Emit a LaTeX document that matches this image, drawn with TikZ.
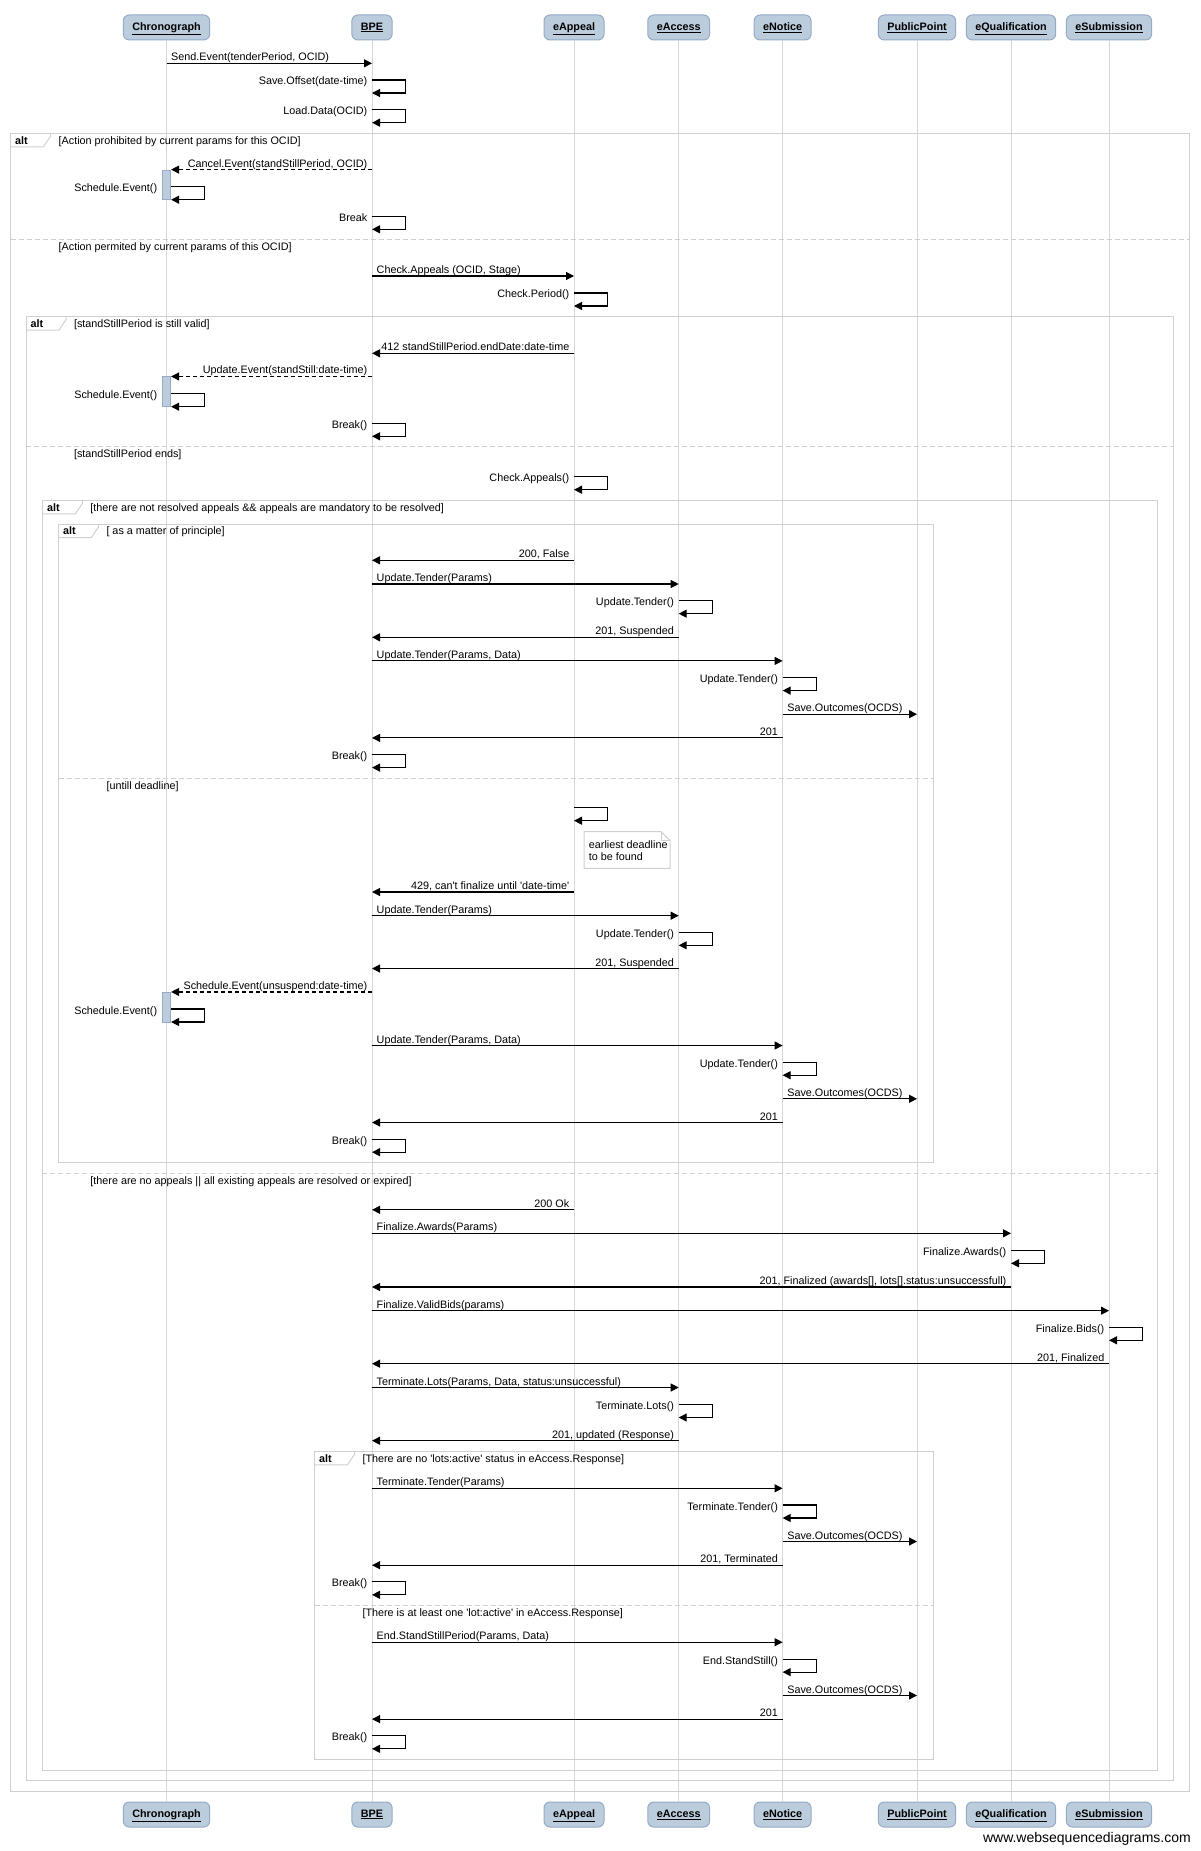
\documentclass[tikz,border=0pt]{standalone}
\usepackage{fontspec}
\setmainfont{Liberation Sans}[Ligatures=TeXOff]
\usetikzlibrary{arrows.meta}
\definecolor{headfill}{RGB}{187,205,220}
\definecolor{headline}{RGB}{148,170,198}
\definecolor{lifegray}{RGB}{214,214,214}
\definecolor{framegray}{RGB}{208,208,208}
\begin{document}
\begin{tikzpicture}[x=1pt, y=-1pt,
  every node/.style={font=\fontsize{10.8}{12}\selectfont},
  head/.style={draw=headline, fill=headfill, line width=1pt, rounded corners=6pt, inner xsep=9pt, inner ysep=0pt, minimum height=25pt, text height=8pt, text depth=2.5pt, font=\fontsize{10.8}{12}\selectfont\bfseries},
  life/.style={draw=lifegray, line width=1pt},
  msg/.style={draw=black, line width=1.1pt, -{Triangle[length=8pt,width=8pt]}},
  back/.style={msg, dash pattern=on 4pt off 3pt},
  lblr/.style={anchor=base west, inner sep=0pt, xshift=4.5pt, yshift=2.5pt},
  lbll/.style={anchor=base east, inner sep=0pt, xshift=-4.5pt, yshift=2.5pt},
  lbls/.style={anchor=base east, inner sep=0pt, xshift=-4.5pt, yshift=-5pt},
  frame/.style={draw=framegray, line width=1pt},
  sepline/.style={draw=framegray, line width=1pt, dash pattern=on 5pt off 3pt},
  alttab/.style={anchor=base west, inner sep=0pt, font=\fontsize{10.8}{12}\selectfont\bfseries},
  guard/.style={anchor=base west, inner sep=0pt},
  act/.style={draw=headline, fill=headfill, line width=0.8pt, minimum width=8.4pt, minimum height=29.7pt, inner sep=0pt}]
\useasboundingbox (0,0) rectangle (1200,1851);

\node[head] (chrono) at (166.5,27.5) {\underline{Chronograph}};
\node[head] (bpe) at (372,27.5) {\underline{BPE}};
\node[head] (appeal) at (574,27.5) {\underline{eAppeal}};
\node[head] (access) at (678.7,27.5) {\underline{eAccess}};
\node[head] (notice) at (782.6,27.5) {\underline{eNotice}};
\node[head] (public) at (917,27.5) {\underline{PublicPoint}};
\node[head] (qualif) at (1011,27.5) {\underline{eQualification}};
\node[head] (submis) at (1109,27.5) {\underline{eSubmission}};
\node[head] (chronoE) at (166.5,1814.5) {\underline{Chronograph}};
\node[head] (bpeE) at (372,1814.5) {\underline{BPE}};
\node[head] (appealE) at (574,1814.5) {\underline{eAppeal}};
\node[head] (accessE) at (678.7,1814.5) {\underline{eAccess}};
\node[head] (noticeE) at (782.6,1814.5) {\underline{eNotice}};
\node[head] (publicE) at (917,1814.5) {\underline{PublicPoint}};
\node[head] (qualifE) at (1011,1814.5) {\underline{eQualification}};
\node[head] (submisE) at (1109,1814.5) {\underline{eSubmission}};
\node[anchor=base east, inner sep=0pt, font=\fontsize{14}{16}\selectfont] (site) at (1191,1842) {www.websequencediagrams.com};

\draw[life] (chrono.south) -- (chronoE.north);
\draw[life] (bpe.south) -- (bpeE.north);
\draw[life] (appeal.south) -- (appealE.north);
\draw[life] (access.south) -- (accessE.north);
\draw[life] (notice.south) -- (noticeE.north);
\draw[life] (public.south) -- (publicE.north);
\draw[life] (qualif.south) -- (qualifE.north);
\draw[life] (submis.south) -- (submisE.north);

\draw[frame] (10.5,133.3) rectangle (1189.5,1791.4);
\draw[frame] (10.5,146.8) -- (43.5,146.8) -- (50.5,136.3) -- (50.5,133.3);
\node[alttab] (a1) at (15,144.1) {alt};
\node[guard] (g1) at (58.5,144.1) {[Action prohibited by current params for this OCID]};
\draw[sepline] (10.5,240) -- (1189.5,240);
\node[guard] (g1b) at (58.5,251) {[Action permited by current params of this OCID]};

\draw[frame] (26,316.7) rectangle (1173.5,1780.7);
\draw[frame] (26,330.2) -- (59,330.2) -- (66,319.7) -- (66,316.7);
\node[alttab] (a2) at (30.5,327.5) {alt};
\node[guard] (g2) at (73.8,327.5) {[standStillPeriod is still valid]};
\draw[sepline] (26,446.7) -- (1173.5,446.7);
\node[guard] (g2b) at (73.8,457.7) {[standStillPeriod ends]};

\draw[frame] (42.4,500.3) rectangle (1157.5,1770);
\draw[frame] (42.4,513.8) -- (75.4,513.8) -- (82.4,503.3) -- (82.4,500.3);
\node[alttab] (a3) at (46.9,511.1) {alt};
\node[guard] (g3) at (90.2,511.1) {[there are not resolved appeals \&\& appeals are mandatory to be resolved]};
\draw[sepline] (42.4,1173.6) -- (1157.5,1173.6);
\node[guard] (g3b) at (90.2,1184.6) {[there are no appeals || all existing appeals are resolved or expired]};

\draw[frame] (58.5,524) rectangle (933.5,1162.9);
\draw[frame] (58.5,537.5) -- (91.5,537.5) -- (98.5,527) -- (98.5,524);
\node[alttab] (a4) at (63,534.8) {alt};
\node[guard] (g4) at (106.3,534.8) {[ as a matter of principle]};
\draw[sepline] (58.5,778.3) -- (933.5,778.3);
\node[guard] (g4b) at (106.3,789.3) {[untill deadline]};

\draw[frame] (314.5,1451.3) rectangle (933.5,1759.3);
\draw[frame] (314.5,1464.8) -- (347.5,1464.8) -- (354.5,1454.3) -- (354.5,1451.3);
\node[alttab] (a5) at (319,1462.1) {alt};
\node[guard] (g5) at (362.3,1462.1) {[There are no 'lots:active' status in eAccess.Response]};
\draw[sepline] (314.5,1605.5) -- (933.5,1605.5);
\node[guard] (g5b) at (362.3,1616.5) {[There is at least one 'lot:active' in eAccess.Response]};

\node[act] (act1) at (chrono |- 0,184.85) {};
\node[act] (act2) at (chrono |- 0,391.7) {};
\node[act] (act3) at (chrono |- 0,1007.2) {};

\draw[msg] (chrono |- 0,63.3) -- (bpe |- 0,63.3);
\node[lblr] (m1) at (chrono |- 0,63.3) {Send.Event(tenderPeriod, OCID)};
\draw[msg] (bpe |- 0,80) -- ++(33.5,0) -- ++(0,13) -- ++(-33.5,0);
\node[lbls] (m2) at (bpe |- 0,80) {Save.Offset(date-time)};
\draw[msg] (bpe |- 0,109.7) -- ++(33.5,0) -- ++(0,13) -- ++(-33.5,0);
\node[lbls] (m3) at (bpe |- 0,109.7) {Load.Data(OCID)};
\draw[back] (bpe |- act1.north) -- (act1.north east);
\node[lbll] (m4) at (bpe |- act1.north) {Cancel.Event(standStillPeriod, OCID)};
\draw[msg] (act1.east |- 0,186.7) -- ++(33.5,0) -- ++(0,13) -- ++(-33.5,0);
\node[lbls] (m5) at (act1.west |- 0,186.7) {Schedule.Event()};
\draw[msg] (bpe |- 0,216.3) -- ++(33.5,0) -- ++(0,13) -- ++(-33.5,0);
\node[lbls] (m6) at (bpe |- 0,216.3) {Break};
\draw[msg] (bpe |- 0,276) -- (appeal |- 0,276);
\node[lblr] (m7) at (bpe |- 0,276) {Check.Appeals (OCID, Stage)};
\draw[msg] (appeal |- 0,293) -- ++(33.5,0) -- ++(0,13) -- ++(-33.5,0);
\node[lbls] (m8) at (appeal |- 0,293) {Check.Period()};

\draw[msg] (appeal |- 0,353.3) -- (bpe |- 0,353.3);
\node[lbll] (m9) at (appeal |- 0,353.3) {412 standStillPeriod.endDate:date-time};
\draw[back] (bpe |- act2.north) -- (act2.north east);
\node[lbll] (m10) at (bpe |- act2.north) {Update.Event(standStill:date-time)};
\draw[msg] (act2.east |- 0,393.7) -- ++(33.5,0) -- ++(0,13) -- ++(-33.5,0);
\node[lbls] (m11) at (act2.west |- 0,393.7) {Schedule.Event()};
\draw[msg] (bpe |- 0,423.3) -- ++(33.5,0) -- ++(0,13) -- ++(-33.5,0);
\node[lbls] (m12) at (bpe |- 0,423.3) {Break()};
\draw[msg] (appeal |- 0,476.7) -- ++(33.5,0) -- ++(0,13) -- ++(-33.5,0);
\node[lbls] (m13) at (appeal |- 0,476.7) {Check.Appeals()};

\draw[msg] (appeal |- 0,560.3) -- (bpe |- 0,560.3);
\node[lbll] (m14) at (appeal |- 0,560.3) {200, False};
\draw[msg] (bpe |- 0,584) -- (access |- 0,584);
\node[lblr] (m15) at (bpe |- 0,584) {Update.Tender(Params)};
\draw[msg] (access |- 0,600.7) -- ++(33.5,0) -- ++(0,13) -- ++(-33.5,0);
\node[lbls] (m16) at (access |- 0,600.7) {Update.Tender()};
\draw[msg] (access |- 0,637.3) -- (bpe |- 0,637.3);
\node[lbll] (m17) at (access |- 0,637.3) {201, Suspended};
\draw[msg] (bpe |- 0,660.9) -- (notice |- 0,660.9);
\node[lblr] (m18) at (bpe |- 0,660.9) {Update.Tender(Params, Data)};
\draw[msg] (notice |- 0,677.6) -- ++(33.5,0) -- ++(0,13) -- ++(-33.5,0);
\node[lbls] (m19) at (notice |- 0,677.6) {Update.Tender()};
\draw[msg] (notice |- 0,714.2) -- (public |- 0,714.2);
\node[lblr] (m20) at (notice |- 0,714.2) {Save.Outcomes(OCDS)};
\draw[msg] (notice |- 0,737.9) -- (bpe |- 0,737.9);
\node[lbll] (m21) at (notice |- 0,737.9) {201};
\draw[msg] (bpe |- 0,754.6) -- ++(33.5,0) -- ++(0,13) -- ++(-33.5,0);
\node[lbls] (m22) at (bpe |- 0,754.6) {Break()};

\draw[msg] (appeal |- 0,807.7) -- ++(33.5,0) -- ++(0,13) -- ++(-33.5,0);
\draw[draw=framegray, line width=1pt, fill=white] (584,831.7) -- (661,831.7) -- (670,840.7) -- (670,868.3) -- (584,868.3) -- cycle;
\draw[draw=framegray, line width=0.8pt] (661,831.7) -- (661,840.7) -- (670,840.7);
\node[anchor=base west, inner sep=0pt, align=left] (note) at (588.7,860) {earliest deadline\\to be found};
\draw[msg] (appeal |- 0,892) -- (bpe |- 0,892);
\node[lbll] (m24) at (appeal |- 0,892) {429, can't finalize until 'date-time'};
\draw[msg] (bpe |- 0,915.7) -- (access |- 0,915.7);
\node[lblr] (m25) at (bpe |- 0,915.7) {Update.Tender(Params)};
\draw[msg] (access |- 0,932.3) -- ++(33.5,0) -- ++(0,13) -- ++(-33.5,0);
\node[lbls] (m26) at (access |- 0,932.3) {Update.Tender()};
\draw[msg] (access |- 0,968.5) -- (bpe |- 0,968.5);
\node[lbll] (m27) at (access |- 0,968.5) {201, Suspended};
\draw[back] (bpe |- act3.north) -- (act3.north east);
\node[lbll] (m28) at (bpe |- act3.north) {Schedule.Event(unsuspend:date-time)};
\draw[msg] (act3.east |- 0,1009) -- ++(33.5,0) -- ++(0,13) -- ++(-33.5,0);
\node[lbls] (m29) at (act3.west |- 0,1009) {Schedule.Event()};
\draw[msg] (bpe |- 0,1045.5) -- (notice |- 0,1045.5);
\node[lblr] (m30) at (bpe |- 0,1045.5) {Update.Tender(Params, Data)};
\draw[msg] (notice |- 0,1062.2) -- ++(33.5,0) -- ++(0,13) -- ++(-33.5,0);
\node[lbls] (m31) at (notice |- 0,1062.2) {Update.Tender()};
\draw[msg] (notice |- 0,1098.8) -- (public |- 0,1098.8);
\node[lblr] (m32) at (notice |- 0,1098.8) {Save.Outcomes(OCDS)};
\draw[msg] (notice |- 0,1122.5) -- (bpe |- 0,1122.5);
\node[lbll] (m33) at (notice |- 0,1122.5) {201};
\draw[msg] (bpe |- 0,1139.2) -- ++(33.5,0) -- ++(0,13) -- ++(-33.5,0);
\node[lbls] (m34) at (bpe |- 0,1139.2) {Break()};

\draw[msg] (appeal |- 0,1209.8) -- (bpe |- 0,1209.8);
\node[lbll] (m35) at (appeal |- 0,1209.8) {200 Ok};
\draw[msg] (bpe |- 0,1233.3) -- (qualif |- 0,1233.3);
\node[lblr] (m36) at (bpe |- 0,1233.3) {Finalize.Awards(Params)};
\draw[msg] (qualif |- 0,1250.3) -- ++(33.5,0) -- ++(0,13) -- ++(-33.5,0);
\node[lbls] (m37) at (qualif |- 0,1250.3) {Finalize.Awards()};
\draw[msg] (qualif |- 0,1287) -- (bpe |- 0,1287);
\node[lbll] (m38) at (qualif |- 0,1287) {201, Finalized (awards[], lots[].status:unsuccessfull)};
\draw[msg] (bpe |- 0,1310.7) -- (submis |- 0,1310.7);
\node[lblr] (m39) at (bpe |- 0,1310.7) {Finalize.ValidBids(params)};
\draw[msg] (submis |- 0,1327.3) -- ++(33.5,0) -- ++(0,13) -- ++(-33.5,0);
\node[lbls] (m40) at (submis |- 0,1327.3) {Finalize.Bids()};
\draw[msg] (submis |- 0,1363.7) -- (bpe |- 0,1363.7);
\node[lbll] (m41) at (submis |- 0,1363.7) {201, Finalized};
\draw[msg] (bpe |- 0,1387.5) -- (access |- 0,1387.5);
\node[lblr] (m42) at (bpe |- 0,1387.5) {Terminate.Lots(Params, Data, status:unsuccessful)};
\draw[msg] (access |- 0,1404.5) -- ++(33.5,0) -- ++(0,13) -- ++(-33.5,0);
\node[lbls] (m43) at (access |- 0,1404.5) {Terminate.Lots()};
\draw[msg] (access |- 0,1440.7) -- (bpe |- 0,1440.7);
\node[lbll] (m44) at (access |- 0,1440.7) {201, updated (Response)};

\draw[msg] (bpe |- 0,1488.3) -- (notice |- 0,1488.3);
\node[lblr] (m45) at (bpe |- 0,1488.3) {Terminate.Tender(Params)};
\draw[msg] (notice |- 0,1505) -- ++(33.5,0) -- ++(0,13) -- ++(-33.5,0);
\node[lbls] (m46) at (notice |- 0,1505) {Terminate.Tender()};
\draw[msg] (notice |- 0,1541.5) -- (public |- 0,1541.5);
\node[lblr] (m47) at (notice |- 0,1541.5) {Save.Outcomes(OCDS)};
\draw[msg] (notice |- 0,1565.2) -- (bpe |- 0,1565.2);
\node[lbll] (m48) at (notice |- 0,1565.2) {201, Terminated};
\draw[msg] (bpe |- 0,1581.8) -- ++(33.5,0) -- ++(0,13) -- ++(-33.5,0);
\node[lbls] (m49) at (bpe |- 0,1581.8) {Break()};
\draw[msg] (bpe |- 0,1642.2) -- (notice |- 0,1642.2);
\node[lblr] (m50) at (bpe |- 0,1642.2) {End.StandStillPeriod(Params, Data)};
\draw[msg] (notice |- 0,1659.1) -- ++(33.5,0) -- ++(0,13) -- ++(-33.5,0);
\node[lbls] (m51) at (notice |- 0,1659.1) {End.StandStill()};
\draw[msg] (notice |- 0,1695.5) -- (public |- 0,1695.5);
\node[lblr] (m52) at (notice |- 0,1695.5) {Save.Outcomes(OCDS)};
\draw[msg] (notice |- 0,1719.1) -- (bpe |- 0,1719.1);
\node[lbll] (m53) at (notice |- 0,1719.1) {201};
\draw[msg] (bpe |- 0,1735.8) -- ++(33.5,0) -- ++(0,13) -- ++(-33.5,0);
\node[lbls] (m54) at (bpe |- 0,1735.8) {Break()};
\end{tikzpicture}
\end{document}
